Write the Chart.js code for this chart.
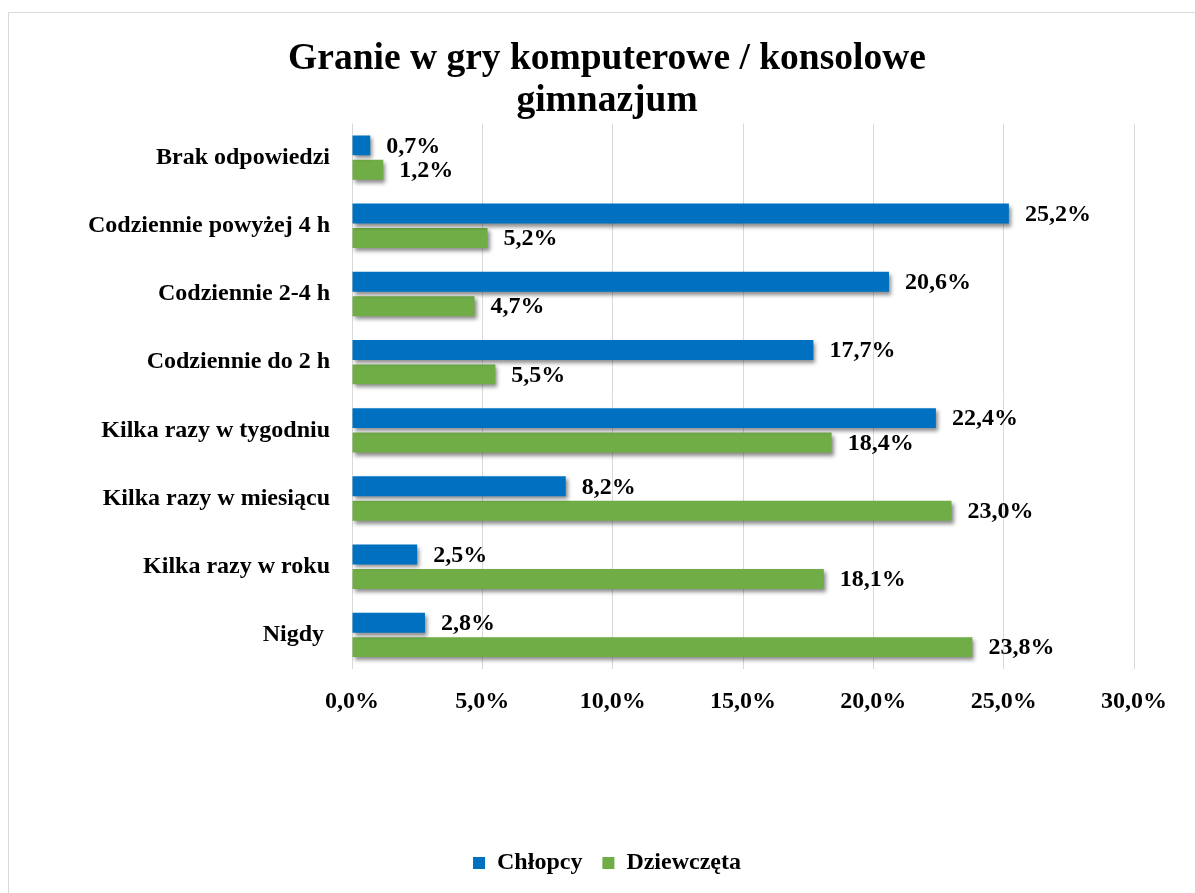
<!DOCTYPE html>
<html>
<head>
<meta charset="utf-8">
<script src="https://cdn.jsdelivr.net/npm/chart.js@4"></script>
<style>
  body { margin: 0; background: #fff; }
  #wrap { position: relative; width: 1195px; height: 893px; overflow: hidden; }
  #ramka { position: absolute; left: 8px; top: 12px; width: 1200px; height: 900px; border: 1.5px solid #d9d9d9; box-sizing: border-box; }
  #wykres { position: absolute; left: 0; top: 0; }
</style>
</head>
<body>
<div id="wrap">
  <div id="ramka"></div>
  <canvas id="wykres" width="1195" height="893"></canvas>
</div>
<script>
// kategorie od góry do dołu
const kategorie = [
  "Brak odpowiedzi",
  "Codziennie powyżej 4 h",
  "Codziennie 2-4 h",
  "Codziennie do 2 h",
  "Kilka razy w tygodniu",
  "Kilka razy w miesiącu",
  "Kilka razy w roku",
  "Nigdy "
];
const chlopcy = [0.7, 25.2, 20.6, 17.7, 22.4, 8.2, 2.5, 2.8];
const dziewczeta = [1.2, 5.2, 4.7, 5.5, 18.4, 23.0, 18.1, 23.8];
const tytul = ["Granie w gry komputerowe / konsolowe", "gimnazjum"];

const FONT = "'Liberation Serif', 'Times New Roman', serif";

function formatuj(v) {
  return v.toFixed(1).replace('.', ',') + '%';
}

// cień pod słupkami
const cien = {
  id: 'cien',
  beforeDatasetDraw(chart) {
    const ctx = chart.ctx;
    ctx.save();
    ctx.shadowColor = 'rgba(0,0,0,0.45)';
    ctx.shadowBlur = 4;
    ctx.shadowOffsetX = 2;
    ctx.shadowOffsetY = 3;
  },
  afterDatasetDraw(chart) {
    chart.ctx.restore();
  }
};

// etykiety wartości
const etykiety = {
  id: 'etykiety',
  afterDatasetsDraw(chart) {
    const ctx = chart.ctx;
    ctx.save();
    ctx.font = 'bold 24px ' + FONT;
    ctx.fillStyle = '#000';
    ctx.textAlign = 'left';
    ctx.textBaseline = 'middle';
    chart.data.datasets.forEach((ds, i) => {
      const meta = chart.getDatasetMeta(i);
      meta.data.forEach((el, j) => {
        ctx.fillText(formatuj(ds.data[j]), el.x + 16, el.y + 1);
      });
    });
    ctx.restore();
  }
};

new Chart(document.getElementById('wykres'), {
  type: 'bar',
  data: {
    labels: kategorie,
    datasets: [
      { label: 'Chłopcy', data: chlopcy, backgroundColor: '#0070C0' },
      { label: 'Dziewczęta', data: dziewczeta, backgroundColor: '#70AD47' }
    ]
  },
  options: {
    indexAxis: 'y',
    responsive: false,
    animation: false,
    categoryPercentage: 0.716,
    barPercentage: 0.816,
    layout: { padding: { top: 20, right: 61, bottom: 8, left: 80 } },
    scales: {
      x: {
        min: 0,
        max: 30,
        ticks: {
          stepSize: 5,
          color: '#000',
          font: { family: FONT, size: 24, weight: 'bold' },
          padding: 18,
          callback: v => formatuj(v)
        },
        grid: { color: '#d9d9d9', drawTicks: false },
        border: { display: false },
        afterFit(scale) { scale.height = 162; }
      },
      y: {
        ticks: {
          color: '#000',
          font: { family: FONT, size: 24, weight: 'bold' },
          padding: 22
        },
        grid: { display: false, drawTicks: false },
        border: { display: false },
        afterFit(scale) { scale.width = 272; }
      }
    },
    plugins: {
      title: {
        display: true,
        text: tytul,
        color: '#000',
        font: { family: FONT, size: 37.5, weight: 'bold', lineHeight: 1.1 },
        padding: { top: 19, bottom: 2 }
      },
      legend: {
        position: 'bottom',
        labels: {
          color: '#000',
          font: { family: FONT, size: 24, weight: 'bold' },
          boxWidth: 12,
          boxHeight: 12,
          padding: 20
        }
      },
      tooltip: { enabled: false }
    }
  },
  plugins: [cien, etykiety]
});
</script>
</body>
</html>
